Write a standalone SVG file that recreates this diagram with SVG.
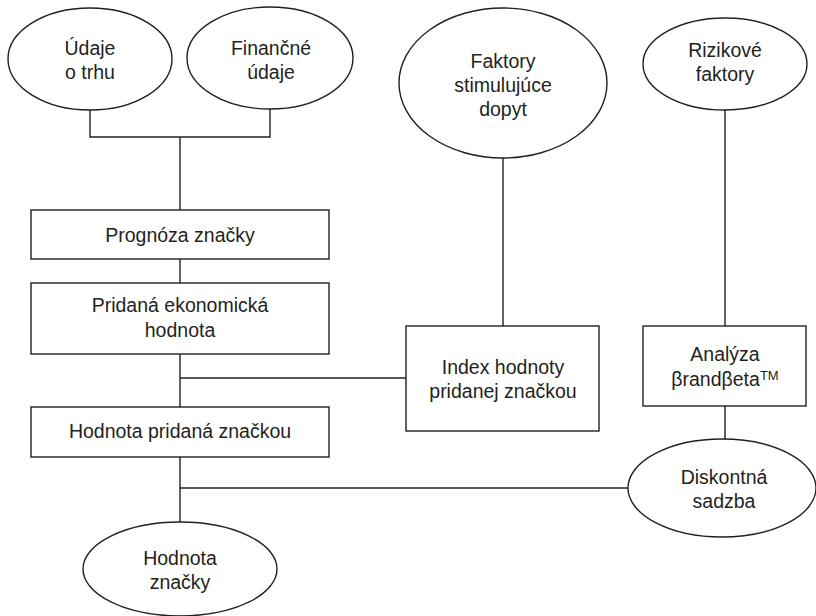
<svg xmlns="http://www.w3.org/2000/svg" width="816" height="616" viewBox="0 0 816 616">
<style>
.s{fill:#fff;stroke:#231f20;stroke-width:1.4}
.c{fill:none;stroke:#231f20;stroke-width:1.4}
text{font-family:"Liberation Sans",Arial,sans-serif;font-size:19.5px;fill:#231f20;text-anchor:middle}
</style>
<rect width="816" height="616" fill="#fff"/>
<g id="connectors">
<path class="c" d="M90 110 V137 H270 V109"/>
<path class="c" d="M180 137 V210"/>
<path class="c" d="M180 259 V283"/>
<path class="c" d="M180 354 V407"/>
<path class="c" d="M180 378 H406"/>
<path class="c" d="M503 158 V326"/>
<path class="c" d="M725 110 V326"/>
<path class="c" d="M725 406 V439"/>
<path class="c" d="M180 457 V522"/>
<path class="c" d="M180 488 H628"/>
</g>
<g id="udaje-o-trhu">
<ellipse class="s" cx="90" cy="59" rx="82" ry="51"/>
<text x="90" y="55">Údaje</text>
<text x="90" y="79">o trhu</text>
</g>
<g id="financne-udaje">
<ellipse class="s" cx="270" cy="58" rx="83" ry="51"/>
<text x="271" y="55">Finančné</text>
<text x="271" y="79">údaje</text>
</g>
<g id="faktory">
<ellipse class="s" cx="503" cy="83" rx="104" ry="75"/>
<text x="503" y="68">Faktory</text>
<text x="503" y="92">stimulujúce</text>
<text x="503" y="116">dopyt</text>
</g>
<g id="rizikove-faktory">
<ellipse class="s" cx="725" cy="64" rx="82" ry="46"/>
<text x="725" y="57">Rizikové</text>
<text x="725" y="81">faktory</text>
</g>
<g id="prognoza">
<rect class="s" x="31" y="210" width="298" height="49"/>
<text x="180" y="242">Prognóza značky</text>
</g>
<g id="pridana-ekonomicka">
<rect class="s" x="31" y="283" width="298" height="71"/>
<text x="180" y="312">Pridaná ekonomická</text>
<text x="180" y="337">hodnota</text>
</g>
<g id="index">
<rect class="s" x="406" y="326" width="193" height="105"/>
<text x="503" y="374">Index hodnoty</text>
<text x="503" y="398">pridanej značkou</text>
</g>
<g id="analyza">
<rect class="s" x="643" y="326" width="163" height="80"/>
<text x="725" y="361">Analýza</text>
<text x="725" y="386">βrandβeta<tspan font-size="13" dy="-6">TM</tspan></text>
</g>
<g id="hodnota-pridana">
<rect class="s" x="31" y="407" width="298" height="50"/>
<text x="180" y="438">Hodnota pridaná značkou</text>
</g>
<g id="diskontna">
<ellipse class="s" cx="722" cy="488" rx="94" ry="49"/>
<text x="724" y="484">Diskontná</text>
<text x="724" y="508">sadzba</text>
</g>
<g id="hodnota-znacky">
<ellipse class="s" cx="180" cy="569" rx="97" ry="47"/>
<text x="180" y="565">Hodnota</text>
<text x="180" y="589">značky</text>
</g>
</svg>
